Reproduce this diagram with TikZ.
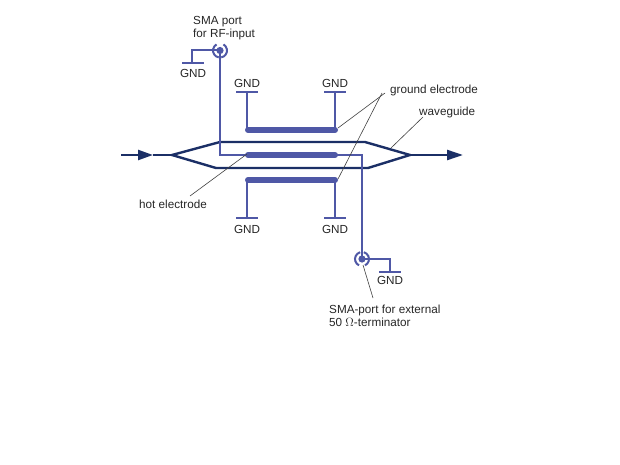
\documentclass[tikz,border=0pt]{standalone}
\usepackage{fontspec}
\setmainfont{Liberation Sans}
\usetikzlibrary{arrows, arrows.meta}
\definecolor{elec}{HTML}{4F58A6}
\definecolor{guide}{HTML}{1B2F66}
\tikzset{
  wire/.style={elec,line width=2pt},
  electrode/.style={elec,line width=6pt,line cap=round},
  gndbar/.style={elec,line width=2.2pt},
  guideline/.style={guide,line width=2.4pt},
  leader/.style={black!75,line width=0.6pt},
  label/.style={font=\fontsize{11.7}{13}\selectfont,black!85,inner sep=0pt,align=left},
}
\begin{document}
\begin{tikzpicture}[x=1pt,y=-1pt]
\useasboundingbox (0,0) rectangle (620,465);

% waveguide
\coordinate (inA) at (121,155);
\coordinate (inB) at (153,155);
\coordinate (splitL) at (172,155);
\coordinate (upL) at (220,142);
\coordinate (upR) at (365,142);
\coordinate (lowL) at (216,168);
\coordinate (lowR) at (368,168);
\coordinate (splitR) at (410,155);
\coordinate (outB) at (463,155);
\draw[guideline] (inB) -- (splitL);
\draw[guideline,-{Triangle[length=15pt,width=10pt]}] (inA) -- (inB);
\draw[guideline,-{Triangle[length=16pt,width=10pt]}] (splitR) -- (outB);
\draw[guideline,line join=miter] (splitL) -- (upL) -- (upR) -- (splitR) -- (lowR) -- (lowL) -- cycle;

% electrodes
\coordinate (gndTopL) at (247,130);
\coordinate (gndTopR) at (335,130);
\coordinate (gndLowL) at (247,180);
\coordinate (gndLowR) at (335,180);
\draw[electrode] (248,130) -- (335,130);
\draw[electrode] (248,155) -- (335,155);
\draw[electrode] (248,180) -- (335,180);

% ports
\coordinate (portIn) at (220,50.5);
\coordinate (portOut) at (362,259);
\fill[elec] (portIn) circle (3.6pt);
\fill[elec] (portOut) circle (3.6pt);
\draw[wire] (portIn) ++(100:7) arc (100:240:7);
\draw[wire] (portIn) ++(80:7) arc (80:-60:7);
\draw[wire] (portOut) ++(115:7) arc (115:255:7);
\draw[wire] (portOut) ++(65:7) arc (65:-75:7);

% hot line
\draw[wire] (portIn) -- (220,155) -- (247,155);
\draw[wire] (336,155) -- (362,155) -- (portOut);

% ground stubs
\draw[wire] (portIn) -- (192,50.5) -- (192,63);
\draw[wire] (portOut) -- (390,259) -- (390,272);
\draw[wire] (gndTopL) -- (247,92);
\draw[wire] (gndTopR) -- (335,92);
\draw[wire] (gndLowL) -- (247,218);
\draw[wire] (gndLowR) -- (335,218);
\draw[gndbar] (182,63) -- (204,63);
\draw[gndbar] (379,272) -- (401,272);
\draw[gndbar] (236,92) -- (258,92);
\draw[gndbar] (324,92) -- (346,92);
\draw[gndbar] (236,218) -- (258,218);
\draw[gndbar] (324,218) -- (346,218);

% labels
\node[label,anchor=north west] (smaIn) at (193,16) {SMA port\\for RF-input};
\node[label] (gndA) at (193,73.5) {GND};
\node[label] (gndB) at (247,83) {GND};
\node[label] (gndC) at (335,83) {GND};
\node[label] (gndD) at (247,229) {GND};
\node[label] (gndE) at (335,229) {GND};
\node[label] (gndF) at (390,280) {GND};
\node[label,anchor=west] (groundEl) at (390,90.5) {ground electrode};
\node[label,anchor=west] (wguide) at (419,112.5) {waveguide};
\node[label,anchor=west] (hotEl) at (139,204) {hot electrode};
\node[label,anchor=north west] (smaOut) at (329,305) {SMA-port for external\\50 $\Omega$-terminator};

% leaders
\coordinate (gA) at (385,93);
\coordinate (gB) at (382,93);
\coordinate (wA) at (423,117);
\coordinate (hA) at (190,196);
\draw[leader] (gA) -- (338,128);
\draw[leader] (gB) -- (338,179);
\draw[leader] (wA) -- (391,148);
\draw[leader] (hA) -- (247,154);
\draw[leader] (363,265) -- (373,298);
\end{tikzpicture}
\end{document}
